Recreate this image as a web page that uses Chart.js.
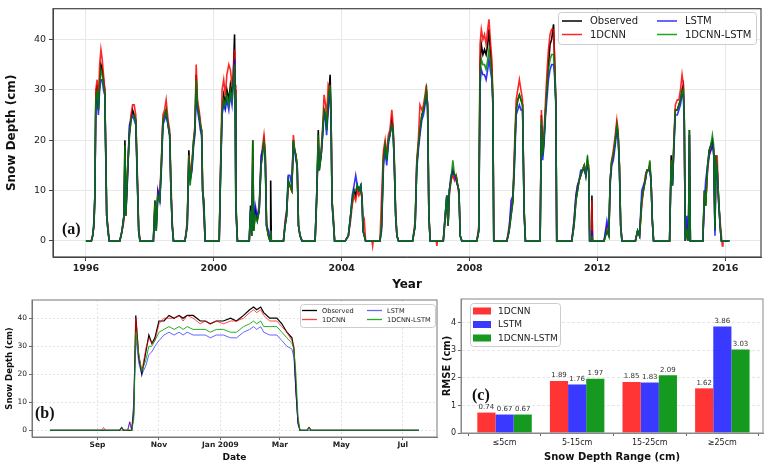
<!DOCTYPE html>
<html>
<head>
<meta charset="utf-8">
<script src="https://cdn.jsdelivr.net/npm/chart.js@4.4.1/dist/chart.umd.min.js"></script>
<style>
  html, body { margin: 0; padding: 0; background: #fff; }
  body { width: 767px; height: 463px; position: relative; overflow: hidden; }
  .panel { position: absolute; }
  #wrapA { left: 0; top: 0; width: 767px; height: 292px; }
  #wrapB { left: 0; top: 292px; width: 445px; height: 171px; }
  #wrapC { left: 437px; top: 292px; width: 330px; height: 171px; }
</style>
</head>
<body>
<div class="panel" id="wrapA"><canvas id="chartA"></canvas></div>
<div class="panel" id="wrapB"><canvas id="chartB"></canvas></div>
<div class="panel" id="wrapC"><canvas id="chartC"></canvas></div>
<script>
// ---- panel (a): daily snow depth 1996-2016, sampled by season ----
const aYears = [
  1996.00, 1996.17, 1996.21, 1996.25, 1996.28, 1996.31, 1996.35, 1996.39, 1996.43, 1996.47, 1996.51, 1996.55, 1996.59, 1996.62, 1996.65, 1996.69, 1996.73,
  1997.06, 1997.13, 1997.19, 1997.22, 1997.25, 1997.30, 1997.36, 1997.41, 1997.46, 1997.51, 1997.56, 1997.61, 1997.65, 1997.69,
  1998.11, 1998.16, 1998.20, 1998.25, 1998.31, 1998.36, 1998.41, 1998.46, 1998.51, 1998.57, 1998.62, 1998.66, 1998.70, 1998.74,
  1999.10, 1999.17, 1999.22, 1999.26, 1999.32, 1999.37, 1999.41, 1999.45, 1999.49, 1999.54, 1999.58, 1999.62, 1999.65, 1999.69, 1999.73,
  2000.17, 2000.21, 2000.26, 2000.31, 2000.36, 2000.41, 2000.47, 2000.52, 2000.57, 2000.61, 2000.65, 2000.67, 2000.69, 2000.74,
  2001.11, 2001.15, 2001.19, 2001.22, 2001.25, 2001.30, 2001.36, 2001.42, 2001.48, 2001.53, 2001.57, 2001.61, 2001.65, 2001.71, 2001.76, 2001.78, 2001.80,
  2002.18, 2002.23, 2002.28, 2002.33, 2002.38, 2002.44, 2002.49, 2002.53, 2002.57, 2002.61, 2002.65, 2002.70, 2002.76,
  2003.17, 2003.22, 2003.27, 2003.30, 2003.36, 2003.41, 2003.45, 2003.50, 2003.53, 2003.58, 2003.64, 2003.67, 2003.70, 2003.74, 2003.78,
  2004.11, 2004.21, 2004.28, 2004.33, 2004.39, 2004.44, 2004.49, 2004.54, 2004.60, 2004.64, 2004.67, 2004.71, 2004.75, 2004.95, 2004.97, 2004.99,
  2005.20, 2005.25, 2005.31, 2005.36, 2005.41, 2005.46, 2005.51, 2005.57, 2005.61, 2005.65, 2005.69, 2005.73, 2005.78,
  2006.22, 2006.30, 2006.35, 2006.40, 2006.45, 2006.51, 2006.56, 2006.61, 2006.65, 2006.69, 2006.73, 2006.77, 2006.96, 2006.98, 2007.00,
  2007.18, 2007.24, 2007.29, 2007.33, 2007.37, 2007.42, 2007.48, 2007.53, 2007.58, 2007.63, 2007.67, 2007.71, 2007.76,
  2008.23, 2008.29, 2008.33, 2008.37, 2008.42, 2008.47, 2008.52, 2008.57, 2008.61, 2008.65, 2008.70, 2008.73, 2008.76,
  2009.17, 2009.24, 2009.30, 2009.36, 2009.41, 2009.46, 2009.51, 2009.56, 2009.61, 2009.66, 2009.71, 2009.75,
  2010.21, 2010.25, 2010.29, 2010.33, 2010.38, 2010.42, 2010.47, 2010.52, 2010.57, 2010.63, 2010.66, 2010.70, 2010.73,
  2011.20, 2011.27, 2011.33, 2011.38, 2011.43, 2011.48, 2011.53, 2011.59, 2011.64, 2011.69, 2011.73, 2011.76, 2011.81, 2011.83, 2011.85,
  2012.21, 2012.30, 2012.36, 2012.40, 2012.45, 2012.50, 2012.56, 2012.61, 2012.65, 2012.69, 2012.73, 2012.77,
  2013.19, 2013.26, 2013.32, 2013.39, 2013.44, 2013.50, 2013.55, 2013.60, 2013.64, 2013.68, 2013.72, 2013.76,
  2014.26, 2014.31, 2014.35, 2014.40, 2014.44, 2014.50, 2014.55, 2014.60, 2014.65, 2014.69, 2014.72, 2014.75, 2014.80, 2014.85, 2014.88, 2014.91,
  2015.30, 2015.35, 2015.39, 2015.45, 2015.50, 2015.55, 2015.60, 2015.64, 2015.68, 2015.71, 2015.75, 2015.79, 2015.84, 2015.88, 2015.91, 2015.93, 2016.13
];
const aObserved = [
  0, 0, 1, 3, 9, 29, 31, 26, 32, 35, 34, 32, 30, 18, 5, 2, 0,
  0, 2, 5, 20, 5, 13, 21, 24, 26, 25, 24, 12, 2, 0,
  0, 8, 2, 9, 8, 15, 24, 25, 26, 23, 21, 10, 3, 0,
  0, 3, 18, 12, 15, 20, 22, 33, 27, 25, 23, 22, 10, 8, 0,
  0, 13, 26, 29, 27, 30, 28, 31, 29, 33, 41, 30, 8, 0,
  0, 7, 1, 20, 2, 6, 4, 6, 15, 18, 20, 17, 3, 1, 0, 12, 0,
  0, 3, 5, 12, 11, 10, 20, 18, 17, 15, 3, 1, 0,
  0, 9, 22, 14, 17, 22, 26, 25, 22, 27, 33, 25, 8, 4, 0,
  0, 1, 5, 8, 10, 9, 11, 10, 11, 8, 2, 1, 0, 0, 0, 0,
  0, 3, 17, 19, 16, 20, 21, 24, 22, 15, 5, 1, 0,
  0, 3, 15, 19, 22, 25, 26, 28, 30, 27, 5, 0, 0, 0, 0,
  0, 5, 9, 3, 10, 12, 14, 13, 13, 11, 10, 1, 0,
  0, 2, 35, 39, 37, 38, 37, 39, 42, 38, 34, 28, 0,
  0, 2, 5, 8, 17, 26, 28, 29, 28, 27, 6, 0,
  0, 25, 17, 20, 26, 30, 35, 39, 40, 43, 36, 28, 0,
  0, 3, 8, 10, 12, 13, 14, 15, 13, 16, 14, 0, 0, 9, 0,
  0, 2, 1, 12, 16, 17, 20, 23, 21, 15, 3, 0,
  0, 2, 1, 8, 10, 12, 14, 14, 15, 12, 4, 0,
  0, 17, 11, 20, 26, 26, 27, 28, 30, 31, 24, 0, 2, 0, 22, 0,
  0, 10, 7, 15, 18, 19, 20, 18, 2, 17, 14, 9, 3, 0, 0, 0, 0
];
const aCnn = [
  0, 0, 1, 3, 8, 30, 32, 28, 35, 38, 36, 33, 30, 17, 5, 3, 0,
  0, 2, 4, 17, 6, 14, 22, 25, 27, 27, 25, 13, 3, 0,
  0, 7, 3, 10, 9, 16, 25, 26, 28, 24, 22, 12, 4, 0,
  0, 4, 17, 13, 16, 20, 23, 35, 28, 26, 24, 21, 12, 5, 0,
  0, 14, 30, 32, 29, 33, 35, 34, 31, 33, 38, 31, 7, 0,
  0, 5, 2, 16, 3, 5, 5, 7, 16, 19, 21, 18, 4, 1, 0, 2, 0,
  0, 4, 6, 11, 11, 10, 21, 18, 17, 14, 3, 1, 0,
  0, 8, 20, 15, 18, 23, 29, 27, 24, 31, 30, 24, 8, 5, 0,
  0, 1, 4, 7, 9, 8, 10, 9, 10, 9, 3, 4, 0, 0, -1, 0,
  0, 9, 18, 20, 17, 21, 22, 26, 23, 16, 6, 1, 0,
  0, 4, 16, 20, 27, 26, 27, 29, 31, 27, 5, 0, 0, -1, 0,
  0, 4, 8, 3, 9, 12, 13, 12, 13, 11, 9, 1, 0,
  0, 3, 39, 42, 40, 41, 39, 42, 44, 40, 36, 29, 0,
  0, 3, 6, 9, 19, 28, 30, 32, 30, 28, 6, 0,
  0, 26, 18, 21, 28, 33, 38, 41, 42, 42, 37, 28, 0,
  0, 4, 9, 11, 12, 13, 14, 15, 14, 15, 15, 0, 0, 8, 0,
  0, 3, 2, 12, 16, 18, 21, 24, 22, 15, 3, 0,
  0, 2, 1, 7, 10, 13, 14, 14, 15, 12, 4, 0,
  0, 16, 12, 21, 27, 28, 28, 30, 33, 31, 24, 0, 3, 0, 21, 0,
  0, 9, 8, 14, 17, 18, 19, 18, 3, 15, 17, 8, 4, 1, -1, 0, 0
];
const aLstm = [
  0, 0, 1, 4, 9, 27, 29, 25, 30, 32, 32, 30, 29, 17, 5, 2, 0,
  0, 2, 5, 16, 6, 12, 23, 24, 25, 24, 23, 11, 2, 0,
  0, 6, 3, 10, 8, 14, 23, 24, 25, 23, 21, 10, 3, 0,
  0, 3, 16, 12, 14, 19, 21, 30, 26, 24, 22, 21, 10, 6, 0,
  0, 12, 25, 27, 26, 28, 26, 29, 27, 31, 36, 28, 6, 0,
  0, 6, 2, 15, 3, 7, 5, 6, 17, 18, 19, 16, 3, 2, 0, 2, 0,
  0, 3, 6, 13, 13, 11, 19, 18, 16, 15, 3, 1, 0,
  0, 9, 19, 15, 17, 21, 25, 24, 21, 26, 30, 23, 7, 4, 0,
  0, 1, 5, 9, 11, 13, 11, 10, 11, 8, 2, 1, 0, 0, 0, 0,
  0, 2, 15, 18, 15, 19, 21, 23, 22, 14, 5, 1, 0,
  0, 3, 14, 18, 21, 24, 25, 27, 29, 26, 5, 0, 0, 0, 0,
  0, 5, 9, 3, 10, 13, 14, 13, 12, 11, 10, 1, 0,
  0, 2, 31, 34, 33, 33, 32, 34, 36, 34, 32, 27, 0,
  0, 2, 8, 9, 15, 25, 26, 27, 26, 26, 5, 0,
  0, 23, 16, 19, 25, 28, 32, 34, 35, 35, 33, 27, 0,
  0, 4, 9, 11, 12, 14, 14, 14, 13, 15, 14, 0, 0, 2, 0,
  0, 4, 2, 11, 15, 16, 19, 22, 21, 14, 3, 0,
  0, 2, 1, 10, 11, 12, 14, 14, 14, 12, 4, 0,
  0, 15, 11, 19, 25, 25, 26, 27, 29, 29, 23, 0, 5, 0, 21, 0,
  0, 8, 12, 15, 17, 18, 19, 17, 1, 16, 14, 8, 3, 0, 0, 0, 0
];
const aHybrid = [
  0, 0, 1, 3, 9, 28, 30, 26, 31, 34, 33, 31, 29, 18, 5, 2, 0,
  0, 2, 5, 19, 5, 14, 21, 24, 25, 25, 24, 12, 2, 0,
  0, 8, 2, 9, 8, 15, 24, 25, 26, 23, 21, 10, 3, 0,
  0, 3, 17, 11, 15, 20, 22, 32, 27, 25, 23, 22, 10, 7, 0,
  0, 13, 26, 28, 27, 29, 27, 30, 28, 31, 35, 29, 7, 0,
  0, 6, 1, 20, 2, 5, 4, 6, 15, 17, 20, 17, 3, 1, 0, 2, 0,
  0, 3, 5, 12, 11, 10, 20, 18, 17, 15, 3, 1, 0,
  0, 9, 21, 14, 17, 22, 26, 25, 22, 28, 31, 24, 8, 4, 0,
  0, 1, 5, 8, 10, 10, 11, 10, 11, 8, 2, 1, 0, 0, 0, 0,
  0, 3, 16, 19, 16, 20, 21, 23, 22, 15, 5, 1, 0,
  0, 3, 15, 19, 22, 25, 26, 28, 30, 27, 5, 0, 0, 0, 0,
  0, 5, 9, 3, 10, 12, 16, 13, 13, 11, 10, 1, 0,
  0, 2, 33, 36, 35, 35, 34, 36, 38, 36, 33, 28, 0,
  0, 2, 5, 8, 17, 26, 28, 29, 28, 27, 6, 0,
  0, 24, 17, 20, 26, 30, 34, 36, 37, 37, 34, 28, 0,
  0, 3, 8, 10, 12, 13, 14, 15, 13, 17, 14, 0, 0, 1, 0,
  0, 2, 1, 12, 16, 17, 20, 23, 21, 15, 3, 0,
  0, 2, 1, 8, 10, 12, 14, 14, 16, 12, 4, 0,
  0, 16, 11, 20, 26, 26, 27, 28, 30, 30, 24, 0, 2, 0, 22, 0,
  0, 10, 7, 15, 18, 19, 21, 19, 2, 17, 14, 9, 3, 0, 0, 0, 0
];
const aYearTicks = [1996, 2000, 2004, 2008, 2012, 2016];
const aDepthTicks = [0, 10, 20, 30, 40];

// ---- panel (b): one season, day number counted from 1 Jul 2008 ----
const bDays = [
  15, 66, 68, 70, 84, 86, 88, 92, 94, 96,
  98, 100, 103, 106, 110, 113, 116, 119, 123, 128,
  133, 138, 143, 147, 151, 157, 164, 169, 174, 180,
  187, 194, 200, 207, 213, 217, 220, 224, 227, 233,
  240, 245, 250, 255, 257, 259, 261, 263, 270, 272,
  274, 381
];
const bObserved = [
  0, 0, 0, 0, 0, 1, 0, 0, 0, 0,
  6, 41, 26, 20, 28, 34, 31, 33, 39, 39,
  41, 40, 41, 40, 41, 41, 39, 39, 38, 39,
  39, 40, 39, 41, 43, 44, 43, 44, 42, 40,
  40, 38, 35, 33, 29, 14, 3, 0, 0, 1,
  0, 0
];
const bCnn = [
  0, 0, 1, 0, 0, 0, 0, 0, 3, 0,
  9, 40, 27, 21, 29, 33, 31, 32, 38, 40,
  40, 40, 41, 39, 41, 40, 38, 39, 38, 39,
  38, 39, 39, 40, 42, 43, 42, 43, 41, 39,
  39, 37, 35, 32, 30, 15, 3, 0, 0, 1,
  0, 0
];
const bLstm = [
  0, 0, 0, 0, 0, 1, 0, 0, 3, 0,
  10, 33, 24, 20, 23, 27, 28, 30, 32, 34,
  35, 34, 35, 34, 35, 34, 34, 34, 33, 34,
  34, 33, 33, 35, 36, 37, 36, 37, 35, 34,
  34, 32, 30, 29, 26, 14, 2, 0, 0, 0,
  0, 0
];
const bHybrid = [
  0, 0, 0, 0, 0, 1, 0, 0, 0, 0,
  4, 35, 27, 21, 25, 30, 30, 32, 35, 36,
  37, 36, 37, 36, 37, 36, 36, 36, 35, 36,
  36, 35, 35, 37, 38, 39, 38, 39, 37, 37,
  37, 35, 33, 31, 29, 20, 5, 0, 0, 1,
  0, 0
];
const bMonthTicks = [62, 123, 184, 243, 304, 365];
const bMonthLabels = ['Sep', 'Nov', 'Jan 2009', 'Mar', 'May', 'Jul'];
const bDepthTicks = [0, 10, 20, 30, 40];

// ---- panel (c): RMSE by snow depth range ----
const cRanges = ['≤5cm', '5-15cm', '15-25cm', '≥25cm'];
const cCnn = [0.74, 1.89, 1.85, 1.62];
const cLstm = [0.67, 1.76, 1.83, 3.86];
const cHybrid = [0.67, 1.97, 2.09, 3.03];
const cRmseTicks = [0, 1, 2, 3, 4];

const FONT = "'DejaVu Sans', sans-serif";
Chart.defaults.font.family = FONT;
Chart.defaults.color = '#222';
Chart.defaults.animation = false;

function pts(xs, ys) {
  return ys.map((y, i) => ({ x: xs[i], y: y }));
}

// box around the plot area
const frameBox = {
  id: 'frameBox',
  afterDraw(chart, args, opts) {
    const a = chart.chartArea;
    const ctx = chart.ctx;
    ctx.save();
    ctx.strokeStyle = opts.color || '#444';
    ctx.lineWidth = opts.width || 1;
    ctx.strokeRect(a.left, a.top, a.right - a.left, a.bottom - a.top);
    ctx.restore();
  }
};

// matplotlib style legend box, drawn at fixed canvas coords
const mplLegend = {
  id: 'mplLegend',
  afterDraw(chart, args, o) {
    if (!o.items) return;
    const ctx = chart.ctx;
    ctx.save();
    ctx.fillStyle = 'rgba(255,255,255,0.85)';
    ctx.strokeStyle = '#cccccc';
    ctx.lineWidth = 1;
    ctx.beginPath();
    ctx.roundRect(o.box[0] + 0.5, o.box[1] + 0.5, o.box[2], o.box[3], 3);
    ctx.fill();
    ctx.stroke();
    ctx.font = o.font;
    ctx.textBaseline = 'middle';
    ctx.fillStyle = '#222';
    o.items.forEach((it, i) => {
      const col = Math.floor(i / o.rows.length);
      const y = o.rows[i % o.rows.length];
      const x = o.cols[col];
      if (it.patch) {
        ctx.fillStyle = it.color;
        ctx.fillRect(x, y - o.patchH / 2, o.lineLen, o.patchH);
      } else {
        ctx.strokeStyle = it.color;
        ctx.lineWidth = o.lineW;
        ctx.beginPath();
        ctx.moveTo(x, y);
        ctx.lineTo(x + o.lineLen, y);
        ctx.stroke();
      }
      ctx.fillStyle = '#222';
      ctx.fillText(it.label, x + o.lineLen + o.gap, y + 0.5);
    });
    ctx.restore();
  }
};

// "(a)" style panel tag
const panelTag = {
  id: 'panelTag',
  afterDraw(chart, args, o) {
    if (!o.text) return;
    const ctx = chart.ctx;
    ctx.save();
    ctx.font = "bold 16px 'Liberation Serif', 'DejaVu Serif', serif";
    ctx.fillStyle = '#111';
    ctx.textBaseline = 'middle';
    ctx.fillText(o.text, o.x, o.y);
    ctx.restore();
  }
};

// numbers above bars
const barValues = {
  id: 'barValues',
  afterDatasetsDraw(chart, args, o) {
    if (!o.show) return;
    const ctx = chart.ctx;
    ctx.save();
    ctx.font = '7px ' + FONT;
    ctx.fillStyle = '#333';
    ctx.textAlign = 'center';
    ctx.textBaseline = 'bottom';
    chart.data.datasets.forEach((ds, di) => {
      chart.getDatasetMeta(di).data.forEach((bar, i) => {
        ctx.fillText(ds.data[i].y.toFixed(2), bar.x, bar.y - 2);
      });
    });
    ctx.restore();
  }
};

Chart.register(frameBox, mplLegend, panelTag, barValues);

const seriesNames = ['Observed', '1DCNN', 'LSTM', '1DCNN-LSTM'];

// ---------- (a) ----------
new Chart(document.getElementById('chartA'), {
  type: 'line',
  data: {
    datasets: [
      { label: seriesNames[0], data: pts(aYears, aObserved), borderColor: '#000000', borderWidth: 1.6, order: 4 },
      { label: seriesNames[1], data: pts(aYears, aCnn), borderColor: 'rgba(255,0,0,0.85)', borderWidth: 1.6, order: 3 },
      { label: seriesNames[2], data: pts(aYears, aLstm), borderColor: 'rgba(0,0,255,0.8)', borderWidth: 1.6, order: 2 },
      { label: seriesNames[3], data: pts(aYears, aHybrid), borderColor: 'rgba(0,128,0,0.85)', borderWidth: 1.6, order: 1 }
    ]
  },
  options: {
    responsive: true,
    maintainAspectRatio: false,
    elements: { point: { radius: 0 }, line: { tension: 0 } },
    layout: { padding: { top: 8, right: 6, left: 0, bottom: 0 } },
    plugins: {
      legend: { display: false },
      tooltip: { enabled: false },
      frameBox: { color: '#444', width: 1.2 },
      mplLegend: {
        box: [558, 12, 198, 32],
        cols: [562, 657],
        rows: [21, 34.5],
        lineLen: 20, gap: 8, lineW: 1.5,
        font: '10px ' + FONT,
        items: [
          { label: 'Observed', color: '#000' },
          { label: '1DCNN', color: 'rgba(255,0,0,0.85)' },
          { label: 'LSTM', color: 'rgba(0,0,255,0.8)' },
          { label: '1DCNN-LSTM', color: 'rgba(0,160,0,0.9)' }
        ]
      },
      panelTag: { text: '(a)', x: 62, y: 230 }
    },
    scales: {
      x: {
        type: 'linear',
        min: 1994.97,
        max: 2017.12,
        afterBuildTicks: s => { s.ticks = aYearTicks.map(v => ({ value: v })); },
        afterFit: s => { s.height = 35; },
        ticks: { font: { size: 9.5, weight: 'bold' }, color: '#222', padding: 2, maxRotation: 0, callback: v => String(v) },
        grid: { color: '#e8e8e8', tickColor: '#444', tickLength: 4 },
        border: { color: '#444' },
        title: { display: true, text: 'Year', font: { size: 12, weight: 'bold' }, color: '#111', padding: { top: 2, bottom: 0 } }
      },
      y: {
        min: -3.2,
        max: 46.1,
        afterBuildTicks: s => { s.ticks = aDepthTicks.map(v => ({ value: v })); },
        afterFit: s => { s.width = 53; },
        ticks: { font: { size: 9.5 }, color: '#222', padding: 3 },
        grid: { color: '#e8e8e8', tickColor: '#444', tickLength: 4 },
        border: { color: '#444' },
        title: { display: true, text: 'Snow Depth (cm)', font: { size: 12, weight: 'bold' }, color: '#111', padding: { top: 5, bottom: 0 } }
      }
    }
  }
});

// ---------- (b) ----------
new Chart(document.getElementById('chartB'), {
  type: 'line',
  data: {
    datasets: [
      { label: seriesNames[0], data: pts(bDays, bObserved), borderColor: '#000000', borderWidth: 1.2, order: 4 },
      { label: seriesNames[1], data: pts(bDays, bCnn), borderColor: 'rgba(255,0,0,0.7)', borderWidth: 1, order: 3 },
      { label: seriesNames[2], data: pts(bDays, bLstm), borderColor: 'rgba(0,0,255,0.6)', borderWidth: 1, order: 2 },
      { label: seriesNames[3], data: pts(bDays, bHybrid), borderColor: 'rgba(0,160,0,0.85)', borderWidth: 1, order: 1 }
    ]
  },
  options: {
    responsive: true,
    maintainAspectRatio: false,
    elements: { point: { radius: 0 }, line: { tension: 0 } },
    layout: { padding: { top: 8, right: 8, left: 0, bottom: 0 } },
    plugins: {
      legend: { display: false },
      tooltip: { enabled: false },
      frameBox: { color: '#777', width: 1 },
      mplLegend: {
        box: [300, 12, 135, 23],
        cols: [302, 367],
        rows: [18.5, 27.5],
        lineLen: 15, gap: 5, lineW: 1.3,
        font: '6.6px ' + FONT,
        items: [
          { label: 'Observed', color: '#000' },
          { label: '1DCNN', color: 'rgba(255,0,0,0.75)' },
          { label: 'LSTM', color: 'rgba(0,0,255,0.6)' },
          { label: '1DCNN-LSTM', color: 'rgba(0,160,0,0.85)' }
        ]
      },
      panelTag: { text: '(b)', x: 35, y: 122 }
    },
    scales: {
      x: {
        type: 'linear',
        min: -3,
        max: 399,
        afterBuildTicks: s => { s.ticks = bMonthTicks.map(v => ({ value: v })); },
        afterFit: s => { s.height = 26; },
        ticks: {
          font: { size: 7.5, weight: 'bold' }, color: '#222', padding: 1, maxRotation: 0,
          callback: v => bMonthLabels[bMonthTicks.indexOf(v)]
        },
        grid: { color: '#e4e4e4', tickColor: '#666', tickLength: 3 },
        border: { color: '#777', dash: [2, 2] },
        title: { display: true, text: 'Date', font: { size: 9, weight: 'bold' }, color: '#111', padding: { top: 1.5, bottom: 0 } }
      },
      y: {
        min: -2.4,
        max: 46.5,
        afterBuildTicks: s => { s.ticks = bDepthTicks.map(v => ({ value: v })); },
        afterFit: s => { s.width = 32; },
        ticks: { font: { size: 7.5 }, color: '#222', padding: 2 },
        grid: { color: '#e4e4e4', tickColor: '#666', tickLength: 3 },
        border: { color: '#777', dash: [2, 2] },
        title: { display: true, text: 'Snow Depth (cm)', font: { size: 8.5, weight: 'bold' }, color: '#111', padding: { top: 4.5, bottom: 0 } }
      }
    }
  }
});

// ---------- (c) ----------
const barRed = 'rgba(255,30,30,0.9)';
const barBlue = 'rgba(40,40,255,0.92)';
const barGreen = '#159a1f';
new Chart(document.getElementById('chartC'), {
  type: 'bar',
  data: {
    datasets: [
      { label: '1DCNN', data: cCnn.map((v, i) => ({ x: i, y: v })), backgroundColor: barRed },
      { label: 'LSTM', data: cLstm.map((v, i) => ({ x: i, y: v })), backgroundColor: barBlue },
      { label: '1DCNN-LSTM', data: cHybrid.map((v, i) => ({ x: i, y: v })), backgroundColor: barGreen }
    ]
  },
  options: {
    responsive: true,
    maintainAspectRatio: false,
    layout: { padding: { top: 7, right: 4, left: 0, bottom: 0 } },
    datasets: { bar: { barPercentage: 1, categoryPercentage: 0.75 } },
    plugins: {
      legend: { display: false },
      tooltip: { enabled: false },
      frameBox: { color: '#888', width: 1 },
      barValues: { show: true },
      mplLegend: {
        box: [33, 11, 90, 43],
        cols: [36],
        rows: [19, 32.5, 46],
        lineLen: 18, gap: 7, patch: true, patchH: 7,
        font: '9px ' + FONT,
        items: [
          { label: '1DCNN', color: barRed, patch: true },
          { label: 'LSTM', color: barBlue, patch: true },
          { label: '1DCNN-LSTM', color: barGreen, patch: true }
        ]
      },
      panelTag: { text: '(c)', x: 35, y: 104 }
    },
    scales: {
      x: {
        type: 'linear',
        offset: false,
        min: -0.6,
        max: 3.56,
        afterBuildTicks: s => { s.ticks = cRanges.map((r, i) => ({ value: i })); },
        afterFit: s => { s.height = 30; },
        ticks: { font: { size: 8 }, color: '#222', padding: 2, maxRotation: 0, callback: v => cRanges[v] },
        grid: { drawOnChartArea: false, tickColor: '#666', tickLength: 3 },
        border: { color: '#888' },
        title: { display: true, text: 'Snow Depth Range (cm)', font: { size: 10, weight: 'bold' }, color: '#111', padding: { top: 3.5, bottom: 0 } }
      },
      y: {
        min: 0,
        max: 4.86,
        afterBuildTicks: s => { s.ticks = cRmseTicks.map(v => ({ value: v })); },
        afterFit: s => { s.width = 24; },
        ticks: { font: { size: 8 }, color: '#222', padding: 2 },
        grid: { color: '#e6e6e6', tickColor: '#666', tickLength: 3 },
        border: { color: '#888', dash: [3, 2] },
        title: { display: true, text: 'RMSE (cm)', font: { size: 10, weight: 'bold' }, color: '#111', padding: { top: 4, bottom: 0 } }
      }
    }
  }
});
</script>
</body>
</html>
